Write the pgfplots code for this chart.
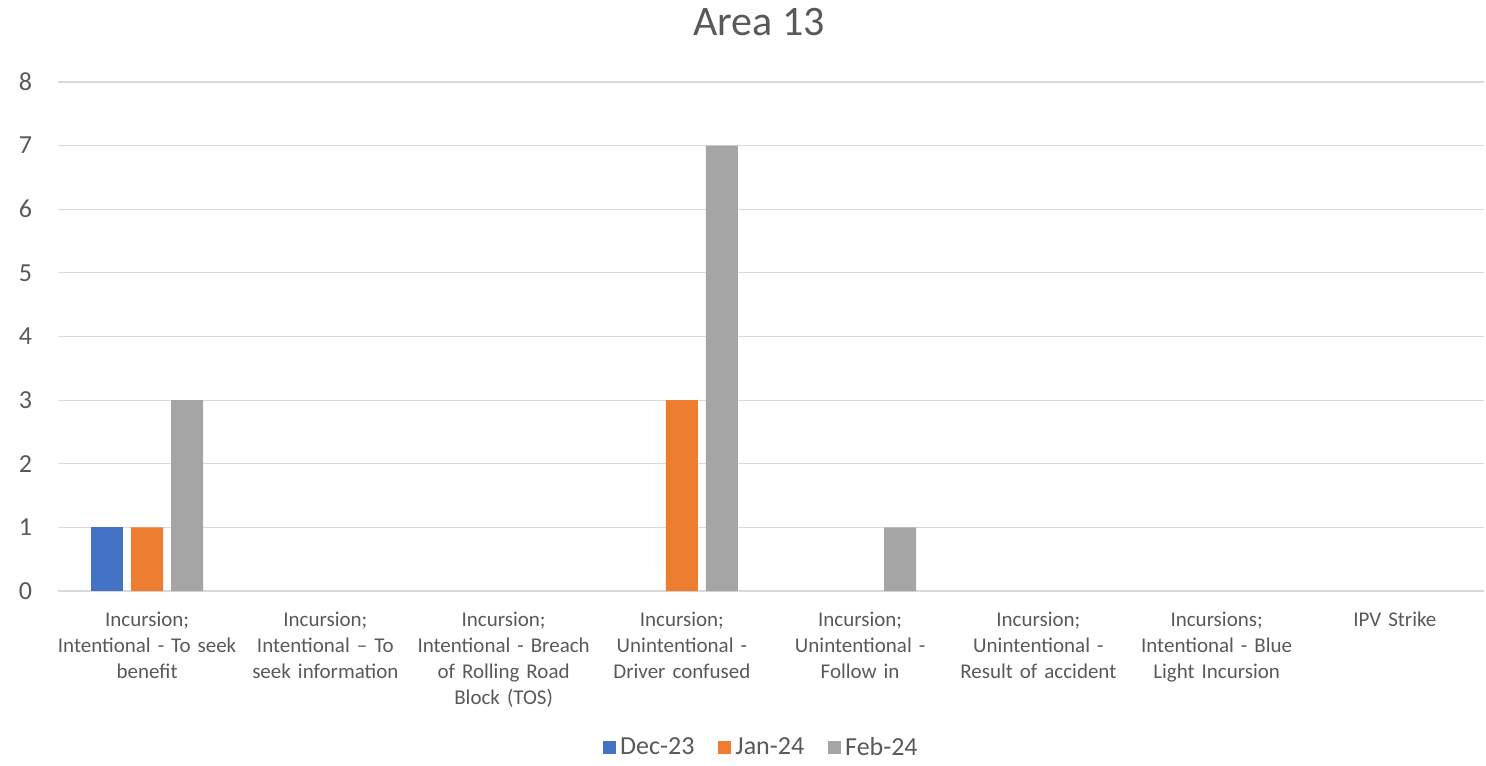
\documentclass[border=0pt]{standalone}
\usepackage{fontspec}
\setmainfont{Carlito}
\usepackage{pgfplots}
\pgfplotsset{compat=1.18}
\definecolor{cblue}{HTML}{4472C4}
\definecolor{corange}{HTML}{ED7D31}
\definecolor{cgray}{HTML}{A5A5A5}
\definecolor{gridc}{HTML}{D9D9D9}
\definecolor{txt}{HTML}{595959}
\begin{document}
\begin{tikzpicture}
\begin{axis}[
  name=ax,
  scale only axis, width=713pt, height=254.5pt,
  ybar=4pt, bar width=16pt,
  xmin=-0.5, xmax=7.5, ymin=0, ymax=8,
  xtick={0,...,7},
  xticklabels={
    {Incursion;\\Intentional - To seek\\benefit},
    {Incursion;\\Intentional – To\\seek information},
    {Incursion;\\Intentional - Breach\\of Rolling Road\\Block (TOS)},
    {Incursion;\\Unintentional -\\Driver confused},
    {Incursion;\\Unintentional -\\Follow in},
    {Incursion;\\Unintentional -\\Result of accident},
    {Incursions;\\Intentional - Blue\\Light Incursion},
    {IPV Strike}},
  x tick label style={text width=100pt, align=center, font=\fontsize{10.5}{13}\selectfont, text=txt, yshift=-7pt},
  ytick={0,...,8},
  y tick label style={font=\fontsize{13}{15}\selectfont, text=txt, xshift=-9.5pt},
  /pgf/number format/assume math mode=true,
  ymajorgrids, grid style={gridc, line width=0.6pt},
  axis line style={draw=none},
  major tick length=0pt,
  legend style={at={(0.494,-0.3084)}, anchor=center, draw=none, legend columns=3,
    font=\fontsize{13}{15}\selectfont, text=txt,
    /tikz/every even column/.append style={column sep=10pt}},
  legend image code/.code={\fill[#1] (0pt,-3.25pt) rectangle (6.5pt,3.25pt);},
]
\addplot[fill=cblue, draw=none] coordinates {(0,1)};
\addplot[fill=corange, draw=none] coordinates {(0,1) (3,3)};
\addplot[fill=cgray, draw=none] coordinates {(0,3) (3,7) (4,1)};
\legend{Dec-23, Jan-24, Feb-24}
\end{axis}
\node[font=\fontsize{21}{25}\selectfont, text=txt] at ([xshift=-6pt,yshift=30pt]ax.north) {Area 13};
\pgfresetboundingbox
\path (-29pt,-87pt) rectangle (714pt,295.5pt);
\end{tikzpicture}
\end{document}
